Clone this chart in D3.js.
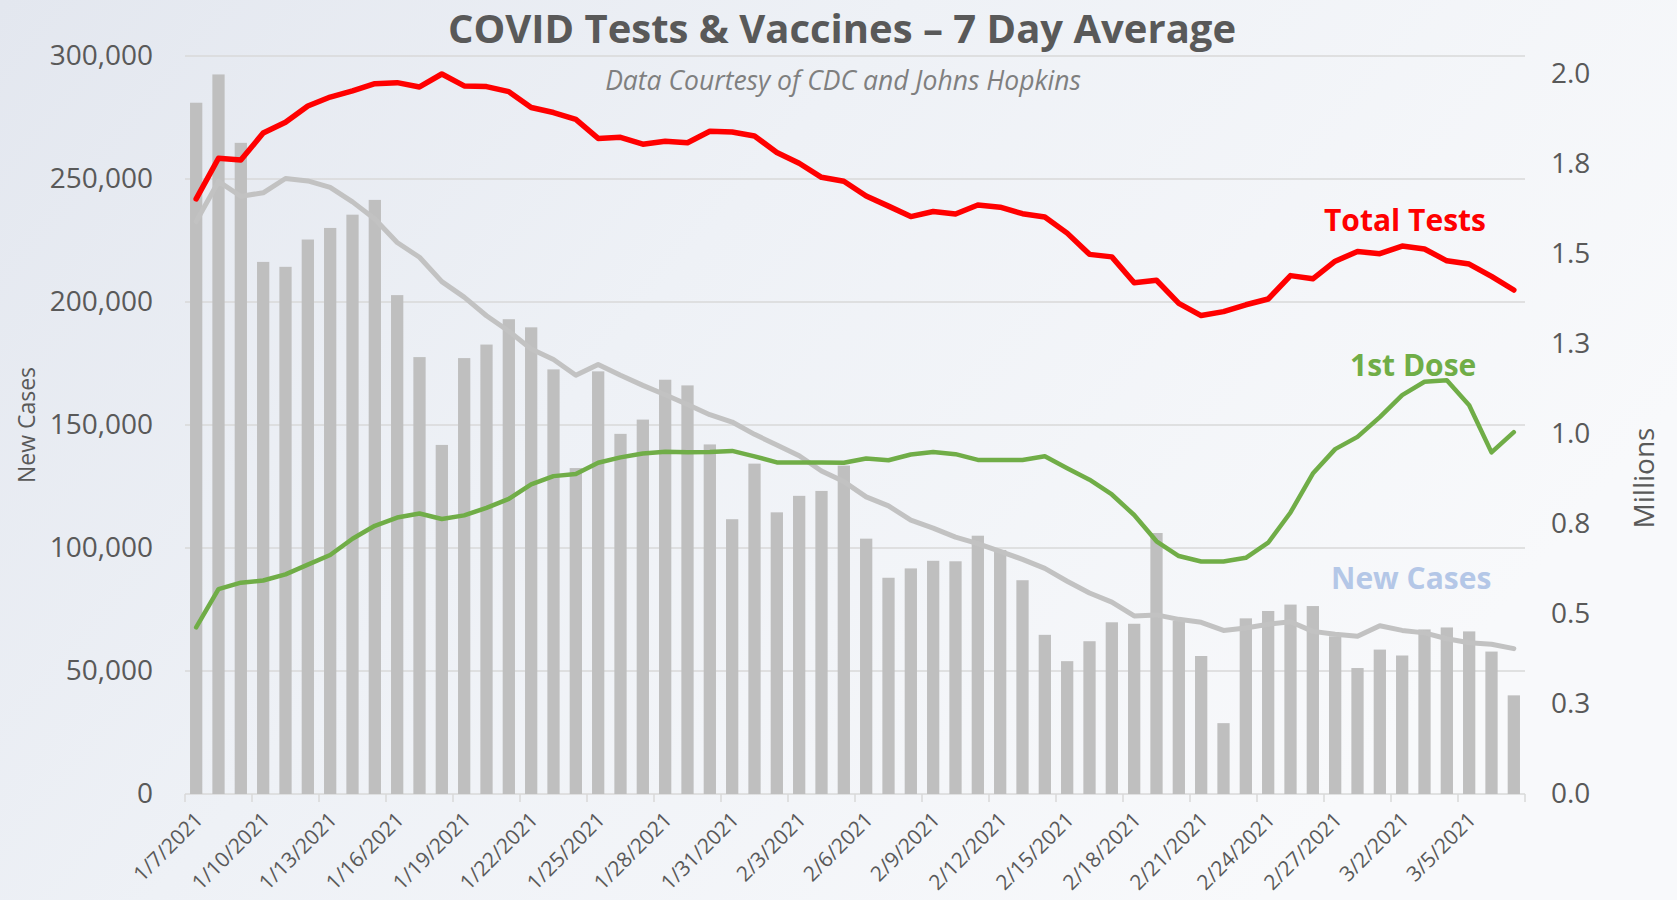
<!DOCTYPE html>
<html>
<head>
<meta charset="utf-8">
<script src="https://cdn.jsdelivr.net/npm/d3@7"></script>
<style>
  body { margin: 0; background: #fff; }
  svg { display: block; }
  text { font-family: "Open Sans", "Noto Sans", sans-serif; }
</style>
</head>
<body>
<svg id="chart" width="1677" height="900"></svg>
<script>
// dates on the x axis, one per bar
var categories = [
  "1/7/2021", "1/8/2021", "1/9/2021", "1/10/2021", "1/11/2021", "1/12/2021", "1/13/2021", "1/14/2021",
  "1/15/2021", "1/16/2021", "1/17/2021", "1/18/2021", "1/19/2021", "1/20/2021", "1/21/2021", "1/22/2021",
  "1/23/2021", "1/24/2021", "1/25/2021", "1/26/2021", "1/27/2021", "1/28/2021", "1/29/2021", "1/30/2021",
  "1/31/2021", "2/1/2021", "2/2/2021", "2/3/2021", "2/4/2021", "2/5/2021", "2/6/2021", "2/7/2021",
  "2/8/2021", "2/9/2021", "2/10/2021", "2/11/2021", "2/12/2021", "2/13/2021", "2/14/2021", "2/15/2021",
  "2/16/2021", "2/17/2021", "2/18/2021", "2/19/2021", "2/20/2021", "2/21/2021", "2/22/2021", "2/23/2021",
  "2/24/2021", "2/25/2021", "2/26/2021", "2/27/2021", "2/28/2021", "3/1/2021", "3/2/2021", "3/3/2021",
  "3/4/2021", "3/5/2021", "3/6/2021", "3/7/2021"
];

// daily new cases (bars, left axis)
var newCases = [
  281000, 292500, 264700, 216300, 214300, 225400, 230100, 235500, 241500, 202800, 177600, 141900,
  177200, 182700, 193000, 189700, 172600, 132500, 171800, 146400, 152200, 168400, 166100, 142100,
  111700, 134300, 114500, 121200, 123200, 133500, 103800, 87900, 91700, 94800, 94600, 105000,
  99200, 86900, 64700, 54000, 62100, 69800, 69200, 106100, 70400, 56100, 28800, 71400,
  74400, 77000, 76400, 64100, 51200, 58700, 56300, 66900, 67700, 66100, 57900, 40100
];

// 7 day average of new cases (grey line, left axis)
var avgCases = [
  232700, 249000, 243000, 244400, 250200, 249200, 246600, 240700, 233700, 224200, 218200, 208300,
  202000, 194400, 188100, 180900, 176600, 170200, 174600, 170200, 166100, 162300, 158300, 154200,
  151200, 146200, 141900, 137500, 131300, 127000, 120800, 117100, 111300, 108100, 104400, 101800,
  98600, 95400, 91700, 86500, 81700, 78000, 72400, 72800, 71000, 69800, 66500, 67500,
  69000, 70000, 66100, 64900, 64100, 68400, 66500, 65500, 63100, 61500, 60900, 59100
];

// total tests, millions (red line, right axis)
var totalTests = [
  1.653, 1.766, 1.761, 1.836, 1.866, 1.911, 1.936, 1.953, 1.973, 1.976, 1.964, 2.000,
  1.967, 1.965, 1.951, 1.907, 1.893, 1.874, 1.821, 1.824, 1.805, 1.813, 1.809, 1.841,
  1.839, 1.828, 1.782, 1.752, 1.713, 1.702, 1.661, 1.633, 1.604, 1.618, 1.611, 1.636,
  1.630, 1.612, 1.603, 1.558, 1.499, 1.492, 1.420, 1.427, 1.363, 1.329, 1.340, 1.359,
  1.375, 1.440, 1.431, 1.480, 1.507, 1.501, 1.522, 1.514, 1.481, 1.472, 1.438, 1.400
];

// first vaccine doses, millions (green line, right axis)
var firstDose = [
  0.463, 0.569, 0.587, 0.593, 0.610, 0.637, 0.664, 0.709, 0.745, 0.768, 0.779, 0.764,
  0.774, 0.795, 0.820, 0.860, 0.883, 0.889, 0.920, 0.935, 0.946, 0.951, 0.949, 0.950,
  0.953, 0.938, 0.921, 0.921, 0.921, 0.920, 0.932, 0.927, 0.943, 0.950, 0.944, 0.928,
  0.928, 0.928, 0.938, 0.905, 0.873, 0.832, 0.775, 0.702, 0.661, 0.646, 0.646, 0.656,
  0.698, 0.782, 0.890, 0.958, 0.992, 1.047, 1.108, 1.145, 1.149, 1.080, 0.949, 1.005
];

var leftTicks = [0, 50000, 100000, 150000, 200000, 250000, 300000];
var rightTicks = [0, 0.25, 0.5, 0.75, 1, 1.25, 1.5, 1.75, 2];

var svg = d3.select("#chart");
var width = 1677, height = 900;
var plot = { left: 185, right: 1525, top: 56, bottom: 794 };

// background
var defs = svg.append("defs");
var grad = defs.append("linearGradient")
  .attr("id", "bg")
  .attr("x1", 0).attr("y1", 0).attr("x2", 1).attr("y2", 0.45);
grad.append("stop").attr("offset", "0%").attr("stop-color", "#e3e7ef");
grad.append("stop").attr("offset", "45%").attr("stop-color", "#eef1f6");
grad.append("stop").attr("offset", "100%").attr("stop-color", "#f8f9fb");
svg.append("rect").attr("width", width).attr("height", height).attr("fill", "url(#bg)");

var x = d3.scaleBand()
  .domain(categories)
  .range([plot.left, plot.right])
  .paddingInner(0.45)
  .paddingOuter(0.225);
var yLeft = d3.scaleLinear().domain([0, 300000]).range([plot.bottom, plot.top]);
var yRight = d3.scaleLinear().domain([0, 2.05]).range([plot.bottom, plot.top]);

var cx = function(i) { return x(categories[i]) + x.bandwidth() / 2; };

// gridlines
svg.append("g").selectAll("line")
  .data(leftTicks)
  .enter().append("line")
  .attr("x1", plot.left).attr("x2", plot.right)
  .attr("y1", function(d) { return yLeft(d); })
  .attr("y2", function(d) { return yLeft(d); })
  .attr("stroke", "#d9d9d9")
  .attr("stroke-width", 1.5);

// x axis tick marks, every 3rd category boundary
var tickIdx = d3.range(0, categories.length + 1, 3);
svg.append("g").selectAll("line")
  .data(tickIdx)
  .enter().append("line")
  .attr("x1", function(k) { return plot.left + k * x.step(); })
  .attr("x2", function(k) { return plot.left + k * x.step(); })
  .attr("y1", plot.bottom).attr("y2", plot.bottom + 8)
  .attr("stroke", "#d9d9d9")
  .attr("stroke-width", 1.5);

// bars
svg.append("g").selectAll("rect")
  .data(newCases)
  .enter().append("rect")
  .attr("x", function(d, i) { return x(categories[i]); })
  .attr("width", x.bandwidth())
  .attr("y", function(d) { return yLeft(d); })
  .attr("height", function(d) { return plot.bottom - yLeft(d); })
  .attr("fill", "#bfbfbf");

var lineLeft = d3.line().x(function(d, i) { return cx(i); }).y(function(d) { return yLeft(d); });
var lineRight = d3.line().x(function(d, i) { return cx(i); }).y(function(d) { return yRight(d); });

function drawLine(data, gen, color, w) {
  svg.append("path")
    .datum(data)
    .attr("d", gen)
    .attr("fill", "none")
    .attr("stroke", color)
    .attr("stroke-width", w)
    .attr("stroke-linejoin", "round")
    .attr("stroke-linecap", "round");
}
drawLine(avgCases, lineLeft, "#c2c2c2", 5);
drawLine(firstDose, lineRight, "#70ad47", 4.5);
drawLine(totalTests, lineRight, "#ff0000", 5.5);

// left axis labels
var gl = svg.append("g")
  .attr("transform", "translate(" + plot.left + ",0)")
  .call(d3.axisLeft(yLeft).tickValues(leftTicks).tickFormat(d3.format(",")).tickSize(0).tickPadding(32));
gl.select(".domain").remove();
gl.attr("font-family", null).attr("font-size", 28);
gl.selectAll("text").attr("fill", "#595959");

// right axis labels
var gr = svg.append("g")
  .attr("transform", "translate(" + plot.right + ",0)")
  .call(d3.axisRight(yRight).tickValues(rightTicks).tickFormat(d3.format(".1f")).tickSize(0).tickPadding(26));
gr.select(".domain").remove();
gr.attr("font-family", null).attr("font-size", 28);
gr.selectAll("text").attr("fill", "#595959");

// x labels
svg.append("g").selectAll("text")
  .data(d3.range(0, categories.length, 3))
  .enter().append("text")
  .attr("transform", function(i) { return "translate(" + (cx(i) + 8) + "," + (plot.bottom + 27) + ") rotate(-45)"; })
  .attr("text-anchor", "end")
  .attr("font-size", 21)
  .attr("fill", "#595959")
  .text(function(i) { return categories[i]; });

// axis titles
svg.append("text")
  .attr("transform", "translate(27,425) rotate(-90)")
  .attr("dy", "0.35em")
  .attr("text-anchor", "middle")
  .attr("font-size", 23)
  .attr("fill", "#595959")
  .text("New Cases");

svg.append("text")
  .attr("transform", "translate(1644,478) rotate(-90)")
  .attr("dy", "0.35em")
  .attr("text-anchor", "middle")
  .attr("font-size", 28)
  .attr("fill", "#595959")
  .text("Millions");

// title and subtitle
svg.append("text")
  .attr("x", 842).attr("y", 43)
  .attr("text-anchor", "middle")
  .attr("font-size", 40)
  .attr("font-weight", "bold")
  .attr("fill", "#595959")
  .text("COVID Tests & Vaccines \u2013 7 Day Average");

svg.append("text")
  .attr("x", 843).attr("y", 90)
  .attr("text-anchor", "middle")
  .attr("font-size", 26.5)
  .attr("font-style", "italic")
  .attr("fill", "#7f7f7f")
  .text("Data Courtesy of CDC and Johns Hopkins");

// series labels
var labels = [
  { text: "Total Tests", x: 1324, y: 231, color: "#ff0000" },
  { text: "1st Dose", x: 1350, y: 376, color: "#70ad47" },
  { text: "New Cases", x: 1331, y: 589, color: "#b4c7e7" }
];
svg.append("g").selectAll("text")
  .data(labels)
  .enter().append("text")
  .attr("x", function(d) { return d.x; })
  .attr("y", function(d) { return d.y; })
  .attr("font-size", 30)
  .attr("font-weight", "bold")
  .attr("fill", function(d) { return d.color; })
  .text(function(d) { return d.text; });
</script>
</body>
</html>
